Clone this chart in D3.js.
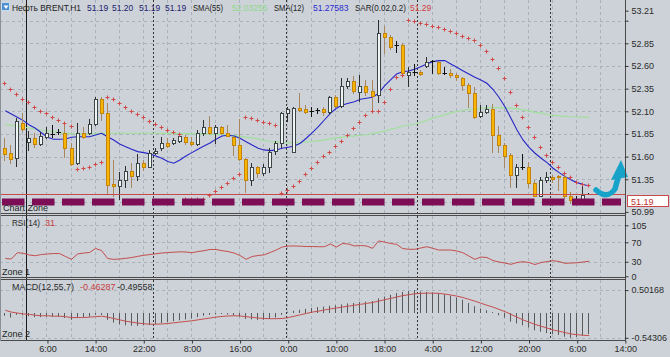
<!DOCTYPE html>
<html><head><meta charset="utf-8">
<script src="https://cdn.jsdelivr.net/npm/d3@7/dist/d3.min.js"></script>
<style>
html,body{margin:0;padding:0;background:#cdd2d8;}
svg{display:block;}
text{font-family:"Liberation Sans",Arial,Helvetica,sans-serif;}
</style></head><body>
<svg id="chart" width="670" height="357"></svg>
<script>
// ---------- DATA ----------
const open = [
51.70,51.64,51.59,51.97,51.76,51.81,51.74,51.82,51.85,51.87,
51.86,51.69,51.53,51.86,51.86,51.96,52.24,52.08,51.30,51.28,
51.34,51.44,51.39,51.53,51.49,51.64,51.69,51.75,51.75,51.77,
51.82,51.76,51.74,51.86,51.93,51.86,51.93,51.86,51.82,51.73,
51.57,51.34,51.48,51.42,51.49,51.66,51.75,52.08,51.65,52.14,
52.13,52.10,52.11,52.13,52.09,52.26,52.16,52.38,52.43,52.31,
52.38,52.32,52.28,52.96,52.92,52.83,52.83,52.50,52.53,52.53,
52.60,52.65,52.64,52.52,52.52,52.50,52.47,52.39,52.30,52.05,
52.09,52.13,51.84,51.73,51.62,51.40,51.49,51.49,51.31,51.17,
51.34,51.38,51.39,51.38,51.16,51.13,51.12,51.19];
const high = [
51.81,51.73,52.03,52.08,51.88,51.86,51.87,51.93,51.95,51.90,
51.97,51.75,51.97,51.93,52.02,52.26,52.26,52.19,51.56,51.43,
51.50,51.53,51.63,51.56,51.67,51.69,51.82,51.80,51.81,51.85,
51.84,51.82,51.89,52.00,52.05,51.95,51.94,51.95,51.83,52.02,
51.59,51.53,51.50,51.52,51.69,51.77,52.09,52.15,52.15,52.30,
52.17,52.15,52.14,52.15,52.27,52.28,52.47,52.47,52.49,52.50,
52.45,52.45,53.11,53.04,52.94,52.88,52.85,52.59,52.62,52.56,
52.70,52.67,52.65,52.59,52.57,52.52,52.48,52.41,52.37,52.17,
52.17,52.18,51.94,51.75,51.64,51.52,51.63,51.54,51.34,51.37,
51.43,51.40,51.40,51.42,51.21,51.16,51.29,51.20];
const low = [
51.56,51.53,51.50,51.88,51.67,51.71,51.73,51.81,51.82,51.85,
51.60,51.51,51.52,51.81,51.85,51.95,52.00,51.20,51.16,51.13,
51.26,51.26,51.34,51.45,51.48,51.63,51.67,51.71,51.74,51.76,
51.74,51.73,51.73,51.84,51.85,51.75,51.85,51.83,51.62,51.56,
51.21,51.29,51.38,51.40,51.43,51.63,51.71,51.99,51.65,52.10,
52.08,52.05,52.08,52.06,52.08,52.15,52.15,52.36,52.30,52.21,
52.28,52.09,52.20,52.74,52.79,52.75,52.50,52.38,52.50,52.50,
52.59,52.52,52.51,52.51,52.48,52.45,52.33,52.15,52.03,52.04,
52.08,51.65,51.65,51.49,51.26,51.27,51.46,51.27,51.16,51.16,
51.32,51.32,51.23,51.14,51.09,51.11,51.11,51.19];
const close = [
51.63,51.57,51.99,51.90,51.81,51.74,51.83,51.86,51.85,51.87,
51.69,51.52,51.86,51.82,51.96,52.24,52.08,51.29,51.28,51.34,
51.44,51.39,51.53,51.49,51.64,51.66,51.75,51.72,51.78,51.83,
51.76,51.74,51.86,51.93,51.86,51.93,51.86,51.83,51.73,51.57,
51.34,51.48,51.42,51.49,51.65,51.75,52.08,52.13,52.14,52.11,
52.09,52.10,52.11,52.09,52.26,52.16,52.38,52.43,52.32,52.38,
52.31,52.27,52.96,52.92,52.81,52.83,52.52,52.53,52.53,52.51,
52.64,52.65,52.52,52.52,52.50,52.48,52.39,52.30,52.04,52.09,
52.13,51.84,51.73,51.61,51.40,51.49,51.49,51.31,51.17,51.34,
51.38,51.35,51.38,51.16,51.12,51.13,51.18,51.19];
const sma12 = [
52.107,52.071,52.034,51.997,51.949,51.913,51.864,51.814,51.792,51.792,
51.795,51.814,51.820,51.820,51.820,51.839,51.858,51.820,51.784,51.740,
51.710,51.681,51.655,51.644,51.630,51.607,51.582,51.545,51.527,51.563,
51.607,51.644,51.681,51.718,51.751,51.792,51.828,51.836,51.828,51.803,
51.765,51.729,51.692,51.674,51.666,51.674,51.692,51.703,51.718,51.748,
51.803,51.864,51.931,52.004,52.078,52.134,52.170,52.189,52.206,52.233,
52.244,52.255,52.299,52.380,52.446,52.512,52.537,52.545,52.564,52.592,
52.622,52.648,52.659,52.659,52.622,52.586,52.548,52.512,52.475,52.446,
52.409,52.343,52.255,52.151,52.023,51.894,51.784,51.703,51.637,51.582,
51.534,51.472,51.423,51.379,51.343,51.313,51.293,51.27583];
const sma55 = [
51.955,51.944,51.938,51.927,51.916,51.905,51.894,51.883,51.872,51.864,
51.858,51.853,51.850,51.850,51.850,51.853,51.856,51.858,51.858,51.858,
51.858,51.858,51.858,51.858,51.858,51.858,51.856,51.856,51.853,51.853,
51.853,51.852,51.850,51.850,51.848,51.845,51.841,51.839,51.831,51.823,
51.814,51.806,51.795,51.778,51.767,51.762,51.756,51.754,51.754,51.756,
51.762,51.767,51.776,51.784,51.795,51.806,51.814,51.825,51.828,51.836,
51.841,51.856,51.864,51.883,51.900,51.916,51.938,51.949,51.960,51.977,
51.999,52.027,52.043,52.060,52.082,52.098,52.109,52.120,52.126,52.131,
52.137,52.140,52.140,52.137,52.134,52.126,52.115,52.104,52.089,52.082,
52.065,52.056,52.049,52.045,52.040,52.037,52.035,52.03255];
const sar = [
52.409,52.346,52.291,52.236,52.200,52.151,52.107,52.078,52.038,52.004,
51.968,51.935,51.461,51.478,51.489,51.516,51.545,52.255,52.233,52.195,
52.151,52.107,52.071,52.032,51.990,51.955,51.922,51.894,51.869,51.850,
51.130,51.130,51.131,51.133,51.172,51.222,51.269,51.313,51.362,51.409,
52.041,52.023,52.004,51.986,51.968,51.949,51.203,51.233,51.277,51.335,
51.409,51.472,51.545,51.607,51.655,51.718,51.776,51.839,51.913,51.986,
52.060,52.107,52.107,52.206,52.346,52.482,52.501,53.107,53.091,53.074,
53.058,53.041,53.025,53.003,52.981,52.959,52.936,52.914,52.887,52.832,
52.765,52.677,52.575,52.464,52.317,52.170,52.034,51.924,51.814,51.703,
51.619,51.538,51.483,51.423,51.379,51.324,51.299,51.29];
const rsi = [
36.6,35.6,48.6,47.3,43.8,42.4,44.8,45.9,46.9,46.9,
40.7,34.9,45.9,47.9,49.0,57.2,53.1,36.6,34.9,35.6,
37.0,38.7,41.1,43.2,44.8,46.3,47.9,49.0,49.6,50.4,
50.0,48.6,51.0,52.7,55.2,55.2,52.7,51.0,47.9,42.8,
34.9,40.7,42.8,44.2,49.0,54.1,60.3,62.4,62.4,62.0,
61.3,61.3,60.9,60.9,66.5,60.3,67.5,66.5,62.4,63.4,
62.4,57.6,72.7,70.6,67.5,65.9,57.2,55.6,55.6,58.2,
60.9,57.6,54.1,54.1,54.1,52.1,48.6,41.8,34.9,39.7,
38.7,32.5,29.4,27.3,24.6,28.4,30.0,28.4,24.2,28.4,
30.4,32.1,30.4,26.7,27.3,27.9,29.4,31];
const macdMain = [
-0.06,-0.10,-0.04,-0.05,-0.07,-0.09,-0.09,-0.08,-0.08,-0.08,
-0.11,-0.15,-0.10,-0.09,-0.08,-0.04,-0.04,-0.15,-0.21,-0.25,
-0.27,-0.28,-0.28,-0.27,-0.26,-0.24,-0.22,-0.20,-0.18,-0.16,
-0.14,-0.12,-0.09,-0.06,-0.04,-0.03,-0.02,-0.03,-0.05,-0.08,
-0.13,-0.14,-0.15,-0.15,-0.13,-0.10,-0.04,0.01,0.05,0.07,
0.09,0.11,0.13,0.14,0.16,0.17,0.19,0.21,0.22,0.24,
0.25,0.26,0.32,0.36,0.40,0.44,0.46,0.48,0.50168,0.47,
0.46,0.45,0.43,0.41,0.38,0.34,0.29,0.22,0.15,0.10,
0.06,0.02,-0.05,-0.10,-0.19,-0.23,-0.27,-0.32,-0.38,-0.41,
-0.44,-0.46,-0.48,-0.52,-0.54306,-0.53,-0.50,-0.46287];
const macdSignal = [
0.06,0.02,0.00,-0.02,-0.03,-0.05,-0.06,-0.06,-0.07,-0.07,
-0.08,-0.10,-0.10,-0.10,-0.09,-0.08,-0.07,-0.09,-0.12,-0.15,
-0.18,-0.20,-0.22,-0.235,-0.245,-0.245,-0.24,-0.23,-0.215,-0.20,
-0.185,-0.17,-0.15,-0.13,-0.11,-0.09,-0.075,-0.065,-0.06,-0.065,
-0.08,-0.095,-0.11,-0.12,-0.125,-0.125,-0.12,-0.10,-0.07,-0.04,
-0.01,0.02,0.04,0.065,0.09,0.11,0.13,0.15,0.17,0.19,
0.21,0.23,0.26,0.29,0.32,0.35,0.38,0.40,0.42,0.43,
0.435,0.435,0.43,0.415,0.395,0.37,0.34,0.30,0.26,0.215,
0.17,0.13,0.08,0.03,-0.03,-0.09,-0.15,-0.20,-0.25,-0.29,
-0.33,-0.37,-0.40,-0.43,-0.46,-0.475,-0.487,-0.49558];
const timeLabels = ["6:00","14:00","22:00","8:00","16:00","0:00","10:00","18:00","4:00","12:00","20:00","6:00","14:00"];
const priceLabels = [53.21, 52.85, 52.60, 52.35, 52.10, 51.85, 51.60, 51.35, 50.99];
const priceGrid = [53.10, 52.85, 52.60, 52.35, 52.10, 51.85, 51.60, 51.35, 51.10];
const rsiLevels = [105, 70, 30, 0];
const macdLevels = [0.50168, -0.54306];
const daySeparators = [24.5, 46.6, 68.4, 90.4];
const markerLine = 3.5;
const bidPrice = 51.19;
const symbolName = "Нефть BRENT,H1";

// ---------- LAYOUT ----------
const W = 670, H = 357, RIGHT = 625.5;
const n = open.length;
const x = d3.scaleLinear().domain([0, n - 1]).range([5.3, 5.3 + (n - 1) * 6.02]);
const yP = d3.scaleLinear().domain([50.99, 53.21]).range([211.9, 10.7]);
const yR = d3.scaleLinear().domain([0, 105]).range([276.3, 225.3]);
const yM = d3.scaleLinear().domain([-0.54306, 0.50168]).range([337.8, 290.1]);
const panes = [{top: 0, bottom: 213}, {top: 216, bottom: 277}, {top: 280, bottom: 340}];

const svg = d3.select("#chart");
svg.append("rect").attr("width", W).attr("height", H).attr("fill", "#cdd2d8");
const defs = svg.append("defs");
defs.append("clipPath").attr("id", "clipMain").append("rect").attr("x", 0).attr("y", 0).attr("width", RIGHT).attr("height", 213);
defs.append("clipPath").attr("id", "clipRsi").append("rect").attr("x", 0).attr("y", 216).attr("width", RIGHT).attr("height", 61);
defs.append("clipPath").attr("id", "clipMacd").append("rect").attr("x", 0).attr("y", 280).attr("width", RIGHT).attr("height", 60);

// grid
const grid = svg.append("g").attr("stroke", "#a9b1ba").attr("stroke-width", 1).attr("stroke-dasharray", "3,3");
const vIdx = d3.range(3, 104, 4).filter(i => x(i) < RIGHT - 1);
panes.forEach(p => {
  vIdx.forEach(i => {
    const xx = Math.round(x(i)) - 0.5;
    grid.append("line").attr("x1", xx).attr("x2", xx).attr("y1", p.top).attr("y2", p.bottom);
  });
});
priceGrid.forEach(v => {
  const yy = Math.round(yP(v)) + 0.5;
  grid.append("line").attr("x1", 0).attr("x2", RIGHT).attr("y1", yy).attr("y2", yy);
});
[105, 70, 30].forEach(v => {
  const yy = Math.round(yR(v)) + 0.5;
  grid.append("line").attr("x1", 0).attr("x2", RIGHT).attr("y1", yy).attr("y2", yy);
});
macdLevels.forEach(v => {
  const yy = Math.round(yM(v)) + 0.5;
  grid.append("line").attr("x1", 0).attr("x2", RIGHT).attr("y1", yy).attr("y2", yy);
});

// day separators and marker line
const sep = svg.append("g");
panes.forEach(p => {
  daySeparators.forEach(d => {
    const xx = Math.round(x(d)) + 0.5;
    sep.append("line").attr("x1", xx).attr("x2", xx).attr("y1", p.top).attr("y2", p.bottom)
      .attr("stroke", "#333").attr("stroke-dasharray", "2,2");
  });
});
{
  const xx = Math.round(x(markerLine)) + 0.5;
  sep.append("line").attr("x1", xx).attr("x2", xx).attr("y1", 0).attr("y2", 340).attr("stroke", "#1a1a1a");
}

// ---------- MAIN PANE ----------
const main = svg.append("g").attr("clip-path", "url(#clipMain)");
const lineP = arr => d3.line().x((d, i) => x(i)).y(d => yP(d))(arr);
main.append("path").attr("d", lineP(sma55)).attr("fill", "none").attr("stroke", "#9fe09a").attr("stroke-width", 1.2);
main.append("path").attr("d", lineP(sma12)).attr("fill", "none").attr("stroke", "#2626c8").attr("stroke-width", 1.1);

const cg = main.append("g");
for (let i = 0; i < n; i++) {
  const cx = Math.round(x(i));
  const o = open[i], c = close[i], h = high[i], l = low[i];
  const doji = Math.abs(o - c) < 0.001, bull = c > o;
  const wickCol = doji ? "#111" : (bull ? "#2e2e2e" : "#a8865e");
  cg.append("line").attr("x1", cx - 0.5).attr("x2", cx - 0.5).attr("y1", Math.round(yP(h))).attr("y2", Math.round(yP(l)) + 1)
    .attr("stroke", wickCol);
  if (doji) {
    const yy = Math.round(yP(o)) + 0.5;
    cg.append("line").attr("x1", cx - 2.5).attr("x2", cx + 2).attr("y1", yy).attr("y2", yy).attr("stroke", "#111");
  } else {
    const yt = Math.round(yP(Math.max(o, c))), yb = Math.round(yP(Math.min(o, c)));
    cg.append("rect").attr("x", cx - 1.5).attr("y", yt + 0.5).attr("width", 3).attr("height", Math.max(1, yb - yt))
      .attr("fill", bull ? "#eef3f3" : "#f7b400").attr("stroke", bull ? "#3c4646" : "#c4840c");
  }
}
// SAR
const sg = main.append("g").attr("stroke", "#d04848");
sar.forEach((v, i) => {
  const cx = Math.round(x(i)) - 0.5, cy = Math.round(yP(v)) + 0.5;
  sg.append("line").attr("x1", cx - 2).attr("x2", cx + 2).attr("y1", cy).attr("y2", cy);
  sg.append("line").attr("x1", cx).attr("x2", cx).attr("y1", cy - 2).attr("y2", cy + 2);
});
// bid line + zone dashes
const bidY = Math.round(yP(bidPrice)) + 0.5;
svg.append("line").attr("x1", 0).attr("x2", RIGHT).attr("y1", bidY).attr("y2", bidY).attr("stroke", "#c84a4a");
svg.append("line").attr("x1", 2).attr("x2", 621).attr("y1", 202).attr("y2", 202)
  .attr("stroke", "#7d0d55").attr("stroke-width", 7).attr("stroke-dasharray", "22.5,7.5");
// arrow
svg.append("path").attr("d", "M596,190 Q607,200 615,189 L618,178").attr("fill", "none")
  .attr("stroke", "#17a3c9").attr("stroke-width", 5.5).attr("stroke-linecap", "round");
svg.append("path").attr("d", "M611,180 L628,177 L621,160 Z").attr("fill", "#17a3c9");

// ---------- RSI ----------
const rg = svg.append("g").attr("clip-path", "url(#clipRsi)");
rg.append("path").attr("d", d3.line().x((d, i) => x(i)).y(d => yR(d))(rsi)).attr("fill", "none").attr("stroke", "#c44e4e");

// ---------- MACD ----------
const mg = svg.append("g").attr("clip-path", "url(#clipMacd)");
macdMain.forEach((v, i) => {
  const xx = Math.round(x(i)) - 0.5;
  mg.append("line").attr("x1", xx).attr("x2", xx).attr("y1", yM(0)).attr("y2", yM(v)).attr("stroke", "#5a5a5a");
});
mg.append("path").attr("d", d3.line().x((d, i) => x(i)).y(d => yM(d))(macdSignal)).attr("fill", "none").attr("stroke", "#c44e4e");

// ---------- FRAMES ----------
const fr = svg.append("g").attr("stroke", "#4a4a4a").attr("shape-rendering", "crispEdges");
[213.5, 215.5, 277.5, 279.5, 340.5].forEach(yy => fr.append("line").attr("x1", 0).attr("x2", RIGHT).attr("y1", yy).attr("y2", yy));
fr.append("line").attr("x1", RIGHT).attr("x2", RIGHT).attr("y1", 0).attr("y2", 340.5);
fr.append("line").attr("x1", 0.5).attr("x2", 0.5).attr("y1", 0).attr("y2", 340.5).attr("stroke", "#8a9098");

// ---------- AXES ----------
function styleAxis(g) {
  g.select(".domain").remove();
  g.selectAll("line").attr("stroke", "#333");
  g.selectAll("text").attr("fill", "#2b2b2b").style("font-size", "9px").style("font-family", "'Liberation Sans',Arial,sans-serif");
}
svg.append("g").attr("transform", `translate(${RIGHT},0)`)
  .call(d3.axisRight(yP).tickValues([...priceLabels, 53.10]).tickFormat(d => priceLabels.includes(d) ? d.toFixed(2) : "").tickSize(3).tickPadding(3))
  .call(styleAxis);
svg.append("g").attr("transform", `translate(${RIGHT},0)`)
  .call(d3.axisRight(yR).tickValues(rsiLevels).tickFormat(d => String(d)).tickSize(3).tickPadding(3))
  .call(styleAxis);
svg.append("g").attr("transform", `translate(${RIGHT},0)`)
  .call(d3.axisRight(yM).tickValues(macdLevels).tickFormat(d => d.toFixed(5)).tickSize(3).tickPadding(3))
  .call(styleAxis);
const tIdx = timeLabels.map((t, k) => 7 + 8 * k);
svg.append("g").attr("transform", "translate(0,340.5)")
  .call(d3.axisBottom(x).tickValues(tIdx).tickFormat((d, k) => timeLabels[k]).tickSize(3).tickPadding(2))
  .call(styleAxis);

// bid label box
svg.append("rect").attr("x", 627.5).attr("y", 195.5).attr("width", 41).attr("height", 11).attr("fill", "#fff").attr("stroke", "#c84a4a");
svg.append("text").attr("x", 631).attr("y", 204.5).attr("fill", "#c03030").style("font-size", "9px").text(bidPrice.toFixed(2));

// ---------- TEXTS ----------
svg.append("rect").attr("x", 1.5).attr("y", 2.5).attr("width", 8).attr("height", 8).attr("fill", "#4d8fd0").attr("stroke", "#c8dcf0");
svg.append("path").attr("d", "M3.5,5.5 L8.5,5.5 L6,9 Z").attr("fill", "#fff");
const last = n - 1;
const header = [
  {t: symbolName, c: "#1c1c1c", x: 12, w: 69},
  {t: open[last].toFixed(2), c: "#22226e", x: 87},
  {t: high[last].toFixed(2), c: "#22226e", x: 112},
  {t: low[last].toFixed(2), c: "#22226e", x: 139},
  {t: close[last].toFixed(2), c: "#22226e", x: 165},
  {t: "SMA(55)", c: "#1c1c1c", x: 193, w: 30},
  {t: sma55[last].toFixed(5), c: "#8fd88a", x: 232},
  {t: "SMA(12)", c: "#1c1c1c", x: 274, w: 30},
  {t: sma12[last].toFixed(5), c: "#2a2ad0", x: 313},
  {t: "SAR(0.02,0.2)", c: "#1c1c1c", x: 355, w: 51},
  {t: sar[last].toFixed(2), c: "#d04040", x: 410}
];
header.forEach(h => {
  const t = svg.append("text").attr("x", h.x).attr("y", 11).attr("fill", h.c).style("font-size", "8.5px").text(h.t);
  if (h.w) t.attr("textLength", h.w).attr("lengthAdjust", "spacingAndGlyphs");
});
const small = (tx, xx, yy, col, w) => {
  const t = svg.append("text").attr("x", xx).attr("y", yy).attr("fill", col).style("font-size", "9px").text(tx);
  if (w) t.attr("textLength", w).attr("lengthAdjust", "spacingAndGlyphs");
  return t;
};
small("RSI(14)", 12, 226, "#2b2b2b", 28);
small(String(Math.round(rsi[last])), 45, 226, "#c83c3c");
small("MACD(12,55,7)", 12, 290, "#2b2b2b", 62);
small(macdMain[last].toFixed(5), 80, 290, "#c83c3c");
small(macdSignal[last].toFixed(5), 117, 290, "#2b2b2b");
small("Chart Zone", 3, 211, "#222");
small("Zone 1", 2, 275, "#222");
small("Zone 2", 2, 337, "#222");
</script>
</body></html>
